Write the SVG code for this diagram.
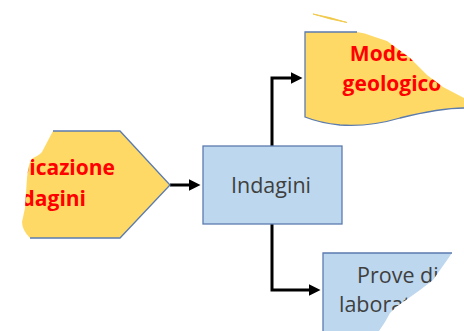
<svg xmlns="http://www.w3.org/2000/svg" width="464" height="331" viewBox="0 0 464 331">
<style>
.yel{fill:#FFD966;}
.blu{fill:#BDD7EE;}
.edge{fill:none;stroke:#5B7BAF;stroke-width:1.3;}
.red{font-family:"Open Sans",sans-serif;font-size:21px;font-weight:bold;fill:#FF0000;}
.dark{font-family:"Open Sans",sans-serif;font-size:21.5px;fill:#3F3F3F;}
.conn{fill:none;stroke:#000;stroke-width:3;}
</style>
<defs>
<marker id="ah" markerWidth="4" markerHeight="4" refX="2.5" refY="2" orient="auto" markerUnits="strokeWidth">
<path d="M0,0 L4,2 L0,4 z" fill="#000"/>
</marker>
<clipPath id="cUb"><path d="M53,131 L120,131 L170,185 L120,238 L30,238 Q22,230 22,222 L25,208 L27,178 Q29,160 33,158 Q42,154 43,150 Z"/></clipPath>
<clipPath id="cMo"><path d="M305,32 L357,32 Q365,33 372,36 L387,41 L410,58 L427,75 L443,87 L464,98 L464,108 Q440,108 400,118 Q370,127 340,125 Q320,123 305,117 Z"/></clipPath>
<clipPath id="cPr"><path d="M323,253 L452,253 L445,263 L433,280 L420,290 L406,300 L396,307 L390,313 L385,322 L379,331 L323,331 Z"/></clipPath>
</defs>
<g id="connectors">
<path class="conn" d="M170,185 L196,185" marker-end="url(#ah)"/>
<path class="conn" d="M272,146 L272,78 L298,78" marker-end="url(#ah)"/>
<path class="conn" d="M272,224 L272,290 L316,290" marker-end="url(#ah)"/>
</g>
<g id="ubicazione">
<path class="yel" d="M53,131 L120,131 L170,185 L120,238 L30,238 Q22,230 22,222 L25,208 L27,178 Q29,160 33,158 Q42,154 43,150 Z"/>
<path class="edge" d="M53,131 L120,131 L170,185 L120,238 L30,238"/>
<g clip-path="url(#cUb)">
<text class="red" x="115" y="175" text-anchor="end">Ubicazione</text>
<text class="red" x="86" y="206" text-anchor="end">indagini</text>
</g>
</g>
<g id="indagini">
<rect class="blu" x="203" y="146" width="139" height="78" stroke="#5B7BAF" stroke-width="1.3"/>
<text class="dark" x="271" y="193" text-anchor="middle">Indagini</text>
</g>
<g id="modello">
<path class="yel" d="M305,32 L357,32 Q365,33 372,36 L387,41 L410,58 L427,75 L443,87 L464,98 L464,108 Q440,108 400,118 Q370,127 340,125 Q320,123 305,117 Z"/>
<path class="edge" d="M357,32 L305,32 L305,117 Q320,123 340,125 Q370,127 400,118 Q440,108 464,108"/>
<path d="M313,14 Q330,17 347,22.5 Q330,19.5 313,14 Z" fill="#E8B820" stroke="#F2CC50" stroke-width="1"/>
<g clip-path="url(#cMo)">
<text class="red" x="392" y="61" text-anchor="middle">Modello</text>
<text class="red" x="392" y="91" text-anchor="middle">geologico</text>
</g>
</g>
<g id="prove">
<path class="blu" d="M323,253 L452,253 L445,263 L433,280 L420,290 L406,300 L396,307 L390,313 L385,322 L379,331 L323,331 Z"/>
<path class="edge" d="M452,253 L323,253 L323,331"/>
<g clip-path="url(#cPr)">
<text class="dark" x="357" y="283">Prove di</text>
<text class="dark" x="339" y="312">laboratorio</text>
</g>
</g>
</svg>
